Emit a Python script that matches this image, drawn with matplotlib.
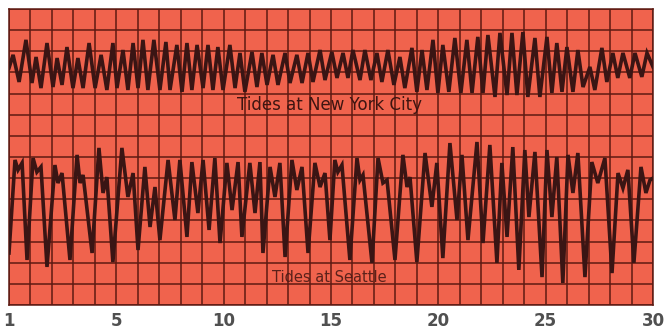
import matplotlib
matplotlib.use("Agg")
import matplotlib.pyplot as plt
import numpy as np

# ---------------- data ----------------
# time axis in days from the left edge (0..30), heights in chart grid units (0..14)
nyc_t = [0, 0.19, 0.47, 0.79, 1.07, 1.26, 1.49, 1.77, 2.05, 2.24, 2.47, 2.70, 2.98, 3.21, 3.45,
         3.73, 4.01, 4.29, 4.56, 4.84, 5.03, 5.31, 5.54, 5.78, 6.01, 6.24, 6.47, 6.75, 7.03,
         7.31, 7.50, 7.82, 8.06, 8.29, 8.52, 8.76, 9.04, 9.27, 9.50, 9.73, 9.97, 10.29, 10.53,
         10.76, 10.99, 11.32, 11.55, 11.78, 12.02, 12.30, 12.53, 12.86, 13.09, 13.41, 13.65,
         13.93, 14.16, 14.49, 14.72, 15.04, 15.28, 15.56, 15.79, 16.02, 16.35, 16.58, 16.86,
         17.14, 17.37, 17.65, 17.93, 18.21, 18.44, 18.77, 19.00, 19.24, 19.47, 19.75, 19.98,
         20.21, 20.49, 20.77, 21.05, 21.33, 21.57, 21.84, 22.08, 22.31, 22.64, 22.87, 23.20,
         23.43, 23.66, 23.94, 24.17, 24.50, 24.73, 25.06, 25.29, 25.52, 25.76, 25.99, 26.27,
         26.50, 26.74, 27.06, 27.29, 27.62, 27.85, 28.13, 28.36, 28.60, 28.92, 29.16, 29.48,
         29.72, 30.0]
nyc_h = [11.21, 11.83, 10.55, 12.54, 10.50, 11.73, 10.26, 12.39, 10.31, 11.68, 10.41, 12.20,
         10.26, 11.68, 10.26, 12.39, 10.26, 11.83, 10.17, 12.39, 10.26, 12.06, 10.17, 12.39,
         10.26, 12.54, 10.17, 12.54, 10.17, 12.44, 10.17, 12.30, 10.08, 12.39, 10.17, 12.30,
         10.26, 12.30, 10.17, 12.20, 10.17, 12.30, 10.26, 11.92, 10.08, 11.97, 10.31, 11.92,
         10.41, 11.83, 10.41, 11.92, 10.50, 11.83, 10.50, 11.92, 10.55, 12.06, 10.64, 11.97,
         10.74, 11.92, 10.74, 12.06, 10.64, 12.06, 10.64, 11.92, 10.55, 12.06, 10.41, 11.73,
         10.26, 12.16, 10.08, 12.06, 10.17, 12.54, 10.03, 12.30, 10.08, 12.63, 10.03, 12.54,
         10.03, 12.68, 10.03, 12.77, 9.84, 12.87, 9.93, 12.87, 9.93, 12.91, 9.84, 12.63, 9.84,
         12.68, 10.03, 12.39, 10.08, 12.20, 10.08, 12.06, 10.31, 11.26, 10.17, 12.16, 10.55,
         11.92, 10.74, 11.92, 10.74, 11.92, 10.79, 11.92, 11.26]

sea_t = [0, 0.28, 0.42, 0.61, 0.84, 1.12, 1.30, 1.49, 1.77, 2.14, 2.28, 2.47, 2.84, 3.17, 3.31,
         3.45, 3.87, 4.19, 4.38, 4.56, 4.84, 5.26, 5.54, 5.78, 6.01, 6.33, 6.57, 6.80, 7.03,
         7.41, 7.73, 7.96, 8.29, 8.52, 8.80, 9.04, 9.32, 9.59, 9.83, 10.15, 10.39, 10.67, 10.85,
         11.22, 11.46, 11.69, 11.83, 12.16, 12.39, 12.62, 12.86, 13.18, 13.41, 13.65, 13.93,
         14.25, 14.49, 14.72, 14.95, 15.18, 15.32, 15.51, 15.88, 16.21, 16.35, 16.49, 16.91,
         17.19, 17.42, 17.61, 17.98, 18.35, 18.54, 18.68, 19.00, 19.38, 19.70, 19.93, 20.21,
         20.54, 20.87, 21.10, 21.38, 21.80, 22.08, 22.40, 22.73, 22.96, 23.20, 23.47, 23.75,
         24.03, 24.22, 24.50, 24.83, 25.06, 25.29, 25.52, 25.80, 26.04, 26.27, 26.50, 26.83,
         27.15, 27.43, 27.76, 28.09, 28.37, 28.60, 28.83, 29.11, 29.44, 29.67, 29.86, 30.0]
sea_h = [2.46, 6.86, 6.39, 6.72, 2.13, 6.95, 6.29, 6.53, 1.80, 6.62, 5.77, 6.24, 2.13, 7.10, 5.77,
         6.15, 2.46, 7.43, 5.30, 6.05, 2.03, 7.43, 5.11, 6.24, 2.60, 6.53, 3.69, 5.58, 3.07,
         6.86, 4.02, 6.86, 3.22, 6.76, 4.35, 6.86, 3.55, 6.95, 2.93, 6.72, 4.49, 6.76, 3.22,
         6.72, 4.35, 6.76, 2.46, 6.53, 5.11, 6.72, 2.27, 6.86, 5.44, 6.53, 2.46, 6.72, 5.58,
         6.24, 3.07, 6.86, 6.29, 6.62, 2.13, 6.95, 5.91, 6.15, 1.99, 6.95, 5.77, 5.91, 2.13,
         7.10, 5.58, 6.05, 2.03, 7.19, 4.64, 6.72, 2.22, 7.66, 4.02, 7.10, 3.07, 7.71, 2.93,
         7.57, 1.99, 6.72, 3.22, 7.47, 1.66, 7.33, 4.16, 7.24, 1.32, 7.33, 4.16, 7.00, 1.04,
         7.10, 5.30, 7.19, 1.32, 6.76, 5.77, 6.95, 1.51, 6.24, 5.53, 6.39, 1.99, 6.53, 5.30,
         5.91, 6.0]

tick_days = [0, 5, 10, 15, 20, 25, 30]
tick_labels = ["1", "5", "10", "15", "20", "25", "30"]
label_nyc = "Tides at New York City"
label_sea = "Tides at Seattle"

# ---------------- styles ----------------
bg = "#f0634d"
grid_c = "#5e1a12"
line_c = "#3a1514"

fig = plt.figure(figsize=(6.67, 3.29), dpi=100)
fig.patch.set_facecolor("white")
ax = fig.add_axes([9 / 667, 24 / 329, 644 / 667, 296 / 329])
ax.set_facecolor(bg)
ax.set_xlim(0, 30)
ax.set_ylim(0, 14)

ax.set_xticks(np.arange(0, 31, 1), minor=True)
ax.set_xticks(tick_days)
ax.set_xticklabels(tick_labels)
ax.set_yticks(np.arange(0, 15, 1))
ax.set_yticklabels([])
ax.grid(True, which="both", color=grid_c, linewidth=1.1)
ax.set_axisbelow(True)
ax.tick_params(which="both", length=0)
ax.tick_params(axis="x", pad=5, labelsize=12, labelcolor="#505050")
for lbl in ax.get_xticklabels():
    lbl.set_fontweight("bold")
for s in ax.spines.values():
    s.set_color(grid_c)
    s.set_linewidth(1.1)

ax.plot(nyc_t, nyc_h, color=line_c, linewidth=2.6, solid_joinstyle="miter", zorder=3)
ax.plot(sea_t, sea_h, color=line_c, linewidth=2.6, solid_joinstyle="miter", zorder=3)

ax.text(14.95, 9.46, label_nyc, ha="center", va="center", fontsize=12,
        color="#3e1511", zorder=4)
ax.text(14.9, 1.32, label_sea, ha="center", va="center", fontsize=10.5,
        color="#4a1a15", alpha=0.9, zorder=4)

fig.savefig("out.png", dpi=100, facecolor="white")
